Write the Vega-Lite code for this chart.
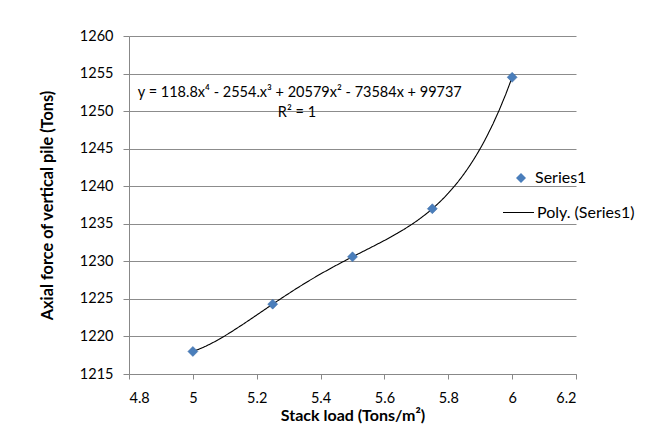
{
  "$schema": "https://vega.github.io/schema/vega-lite/v6.json",
  "width": 447,
  "height": 338,
  "autosize": "none",
  "padding": {"left": 129, "top": 36, "right": 70, "bottom": 54},
  "background": "white",
  "config": {
    "font": "Lato",
    "view": {"stroke": null},
    "axis": {"domainColor": "#888888", "tickColor": "#888888", "gridColor": "#8c8c8c", "labelColor": "#000000", "titleColor": "#000000", "labelFont": "Lato", "titleFont": "Lato", "labelOverlap": false}
  },
  "datasets": {
    "pts": [
      {"load": 5.0, "force": 1218.0},
      {"load": 5.25, "force": 1224.3},
      {"load": 5.5, "force": 1230.6},
      {"load": 5.75, "force": 1237.0},
      {"load": 6.0, "force": 1254.5}
    ],
    "notes": [
      {"load": 5.335, "force": 1252.4, "text": "y = 118.8x⁴ - 2554.x³ + 20579x² - 73584x + 99737"},
      {"load": 5.326, "force": 1249.75, "text": "R² = 1"}
    ]
  },
  "encoding": {
    "x": {"field": "load", "type": "quantitative", "scale": {"domain": [4.8, 6.2], "nice": false, "zero": false},
      "axis": {"values": [4.8, 5, 5.2, 5.4, 5.6, 5.8, 6, 6.2], "format": "~g", "grid": false, "tickSize": 5, "labelPadding": 12, "labelFontSize": 14.5, "title": "Stack load (Tons/m²)", "titleFontSize": 16, "titleFontWeight": "bold", "titlePadding": 3}},
    "y": {"field": "force", "type": "quantitative", "scale": {"domain": [1215, 1260], "nice": false, "zero": false},
      "axis": {"values": [1215, 1220, 1225, 1230, 1235, 1240, 1245, 1250, 1255, 1260], "format": "d", "grid": true, "tickSize": 6, "labelPadding": 10, "labelFontSize": 14.5, "title": "Axial force of vertical pile (Tons)", "titleFontSize": 16.3, "titleFontWeight": "bold", "titlePadding": 24}}
  },
  "layer": [
    {
      "data": {"name": "pts"},
      "transform": [{"regression": "force", "on": "load", "method": "poly", "order": 4, "extent": [5, 6]}],
      "mark": {"type": "line", "color": "#000000", "strokeWidth": 1.1},
      "encoding": {
        "strokeDash": {"datum": "Poly. (Series1)", "type": "nominal", "scale": {"range": [[1, 0]]},
          "legend": {"title": null, "orient": "none", "legendX": 373, "legendY": 160, "symbolType": "stroke", "symbolSize": 961, "symbolStrokeColor": "#000000", "symbolStrokeWidth": 1.1, "labelFontSize": 16, "labelFont": "Lato", "labelOffset": 2, "padding": 0}}
      }
    },
    {
      "data": {"name": "pts"},
      "mark": {"type": "point", "filled": true, "color": "#4A7EBB", "opacity": 1, "size": 100, "stroke": "#3c6aa3", "strokeWidth": 0.5},
      "encoding": {
        "shape": {"datum": "Series1", "type": "nominal", "scale": {"range": ["diamond"]},
          "legend": {"title": null, "orient": "none", "legendX": 384, "legendY": 134, "symbolFillColor": "#4A7EBB", "symbolStrokeColor": "#4A7EBB", "symbolSize": 100, "labelFontSize": 16, "labelFont": "Lato", "labelOffset": 6, "padding": 0}}
      }
    },
    {
      "data": {"name": "notes"},
      "mark": {"type": "text", "fontSize": 14.5, "font": "Lato", "color": "#000000", "align": "center", "baseline": "middle"},
      "encoding": {
        "text": {"field": "text"}
      }
    }
  ]
}
